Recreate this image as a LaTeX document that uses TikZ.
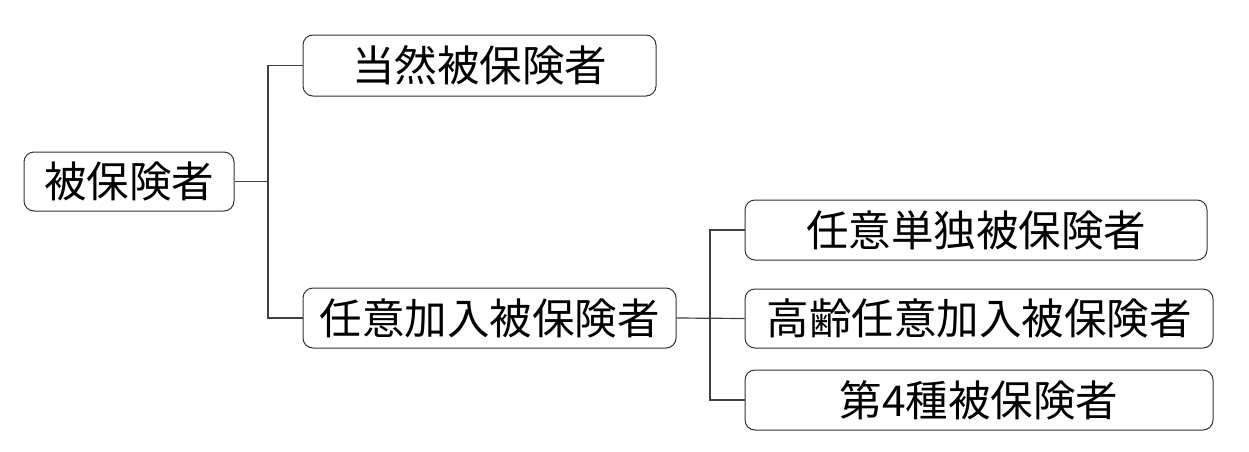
\documentclass[tikz,border=0pt]{standalone}
\usepackage{fontspec}
\newfontfamily\cjk{Noto Sans CJK JP}
\begin{document}
\begin{tikzpicture}[x=1pt,y=-1pt,
  box/.style={draw=black!80,line width=1pt,rounded corners=10pt,inner sep=0pt,font=\cjk\fontsize{42.5}{42.5}\selectfont,fill=white},
  conn/.style={draw=black!75,line width=1.2pt}]
\useasboundingbox[fill=white] (0,0) rectangle (1249,451);
\node[box,minimum width=210pt,minimum height=59pt] (root) at (129,181.5) {被保険者};
\node[box,minimum width=353pt,minimum height=61pt] (a) at (479.5,65.5) {当然被保険者};
\node[box,minimum width=373pt,minimum height=60pt] (b) at (489.5,318) {任意加入被保険者};
\node[box,minimum width=462pt,minimum height=60pt] (c1) at (976,230) {任意単独被保険者};
\node[box,minimum width=468pt,minimum height=59pt] (c2) at (979,318.5) {高齢任意加入被保険者};
\node[box,minimum width=468pt,minimum height=60pt] (c3) at (979,400) {第4種被保険者};
\coordinate (j1) at (268,181.5);
\coordinate (j2) at (710,318);
\draw[conn] (root.east) -- (j1);
\draw[conn] (a.west) -| (j1) |- (b.west);
\draw[conn] (b.east) -- (c2.west);
\draw[conn] (c1.west) -| (j2) |- (c3.west);
\end{tikzpicture}
\end{document}
